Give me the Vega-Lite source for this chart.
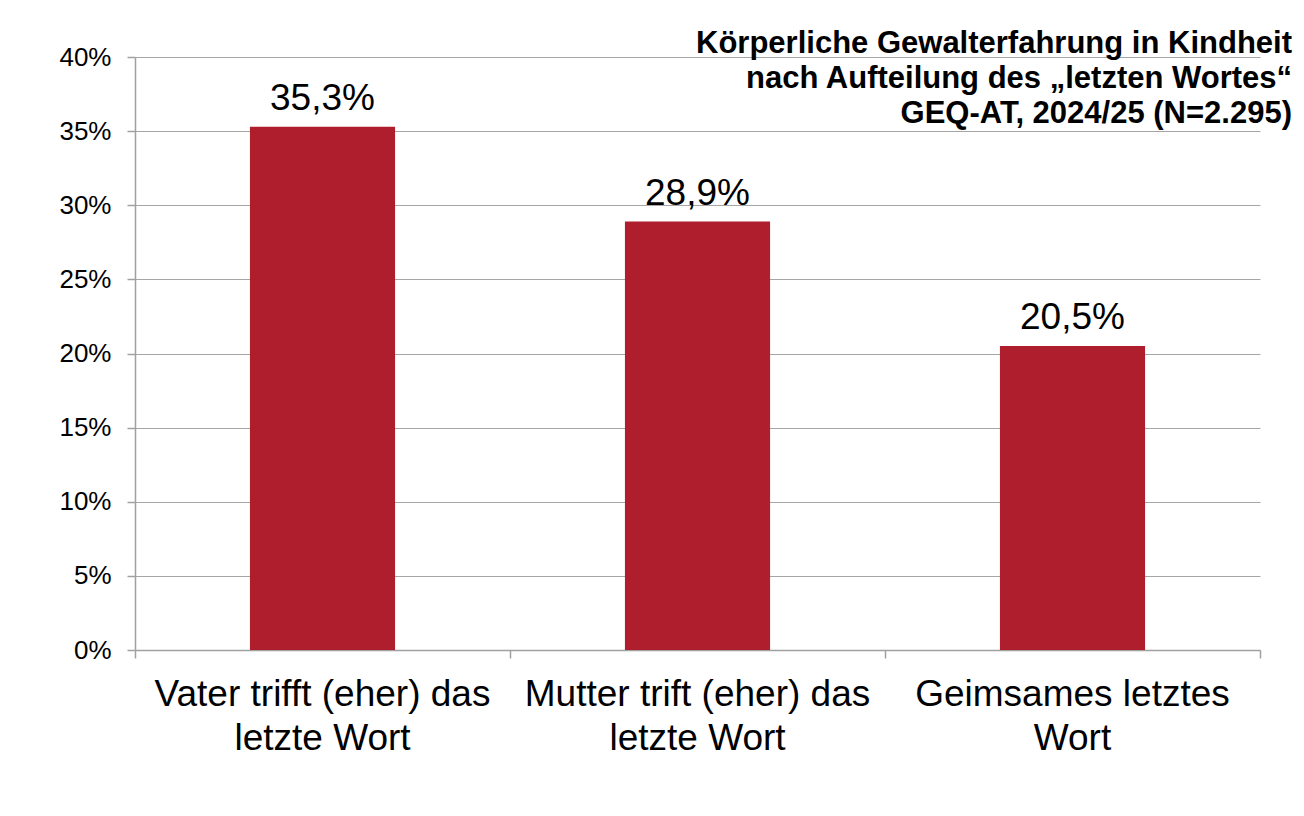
{
  "$schema": "https://vega.github.io/schema/vega-lite/v6.json",
  "width": 1125,
  "height": 593,
  "autosize": {"type": "none"},
  "padding": {"left": 135, "top": 57, "right": 44, "bottom": 166},
  "background": "white",
  "config": {
    "locale": {"number": {"decimal": ",", "thousands": ".", "grouping": [3], "currency": ["", " €"]}},
    "view": {"stroke": null},
    "font": "Liberation Sans"
  },
  "title": {
    "text": ["Körperliche Gewalterfahrung in Kindheit", "nach Aufteilung des „letzten Wortes“", "GEQ-AT, 2024/25 (N=2.295)"],
    "anchor": "end",
    "frame": "group",
    "orient": "top",
    "fontSize": 31,
    "fontWeight": "bold",
    "font": "Liberation Sans",
    "color": "black",
    "lineHeight": 35,
    "dx": 32,
    "offset": -86,
    "zindex": 1
  },
  "data": {
    "values": [
      {"cat": "Vater trifft (eher) das|letzte Wort", "value": 0.353},
      {"cat": "Mutter trift (eher) das|letzte Wort", "value": 0.289},
      {"cat": "Geimsames letztes|Wort", "value": 0.205}
    ]
  },
  "encoding": {
    "x": {
      "field": "cat",
      "type": "nominal",
      "sort": null,
      "scale": {"paddingInner": 0, "paddingOuter": 0},
      "axis": {
        "title": null,
        "labelExpr": "split(datum.label, '|')",
        "labelFontSize": 37,
        "labelLineHeight": 44,
        "labelColor": "black",
        "labelAngle": 0,
        "labelLimit": 0,
        "labelOverlap": false,
        "labelPadding": 18,
        "labelBaseline": "top",
        "tickExtra": true,
        "bandPosition": 1,
        "tickSize": 8,
        "tickColor": "#a0a0a0",
        "tickWidth": 1.5,
        "domainColor": "#a0a0a0",
        "domainWidth": 1.5,
        "grid": false
      }
    },
    "y": {
      "field": "value",
      "type": "quantitative",
      "scale": {"domain": [0, 0.4], "nice": false},
      "axis": {
        "title": null,
        "format": ".0%",
        "values": [0, 0.05, 0.1, 0.15, 0.2, 0.25, 0.3, 0.35, 0.4],
        "labelFontSize": 26,
        "labelColor": "black",
        "labelPadding": 16,
        "tickSize": 8,
        "tickColor": "#a0a0a0",
        "tickWidth": 1.5,
        "domainColor": "#a0a0a0",
        "domainWidth": 1.5,
        "gridColor": "#a6a6a6",
        "gridWidth": 1.2
      }
    }
  },
  "layer": [
    {"mark": {"type": "bar", "color": "#AF1E2D", "width": {"band": 0.387}}},
    {
      "mark": {"type": "text", "fontSize": 37, "color": "black", "baseline": "bottom", "dy": -9},
      "encoding": {"text": {"field": "value", "type": "quantitative", "format": ".1%"}}
    }
  ]
}
